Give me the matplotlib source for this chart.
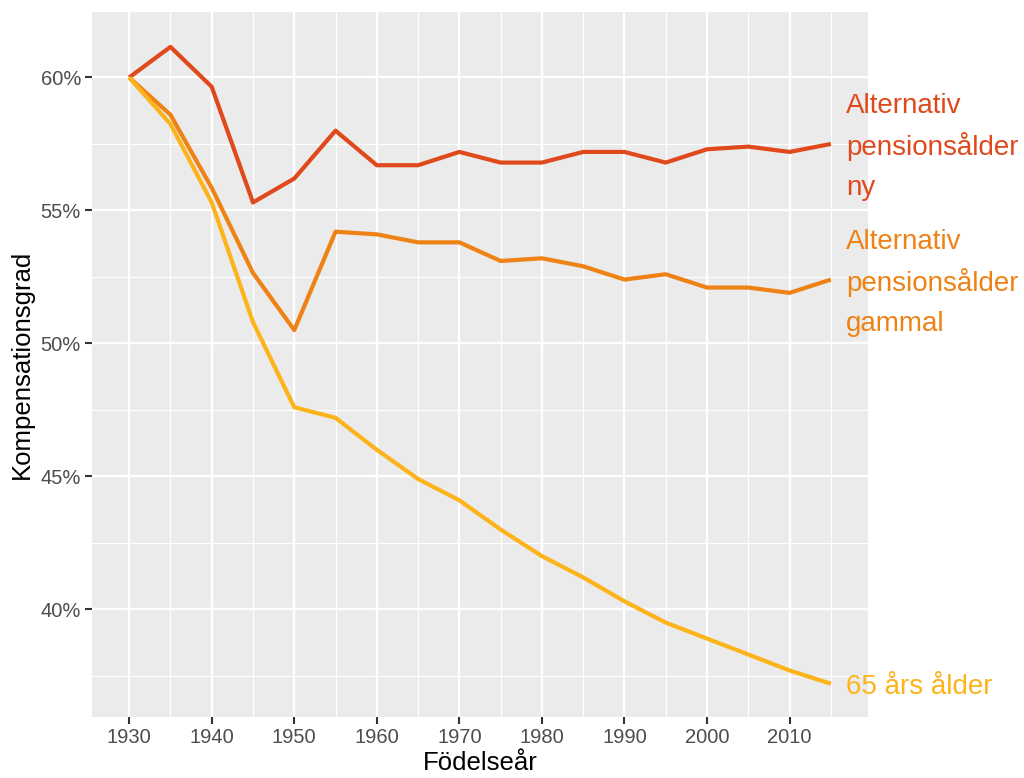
import matplotlib.pyplot as plt
import numpy as np

plt.rcParams['font.family'] = ['Liberation Sans', 'DejaVu Sans']

years = list(range(1930, 2016, 5))
ny = [60.0, 61.15, 59.65, 55.3, 56.2, 58.0, 56.7, 56.7, 57.2, 56.8, 56.8,
      57.2, 57.2, 56.8, 57.3, 57.4, 57.2, 57.5]
gammal = [60.0, 58.6, 55.85, 52.65, 50.5, 54.2, 54.1, 53.8, 53.8, 53.1, 53.2,
          52.9, 52.4, 52.6, 52.1, 52.1, 51.9, 52.4]
ar65 = [60.0, 58.25, 55.3, 50.8, 47.6, 47.2, 46.0, 44.9, 44.1, 43.0, 42.0,
        41.2, 40.3, 39.5, 38.9, 38.3, 37.7, 37.2]

series = [
    (ny, "#E0491B", ["Alternativ", "pensionsålder", "ny"]),
    (gammal, "#EE8215", ["Alternativ", "pensionsålder", "gammal"]),
    (ar65, "#FDB31A", ["65 års ålder"]),
]

fig = plt.figure(figsize=(10.24, 7.78), dpi=100)
ax = fig.add_axes([92 / 1024, 1 - 717 / 778, (868 - 92) / 1024, (717 - 11) / 778])
ax.set_facecolor("#EBEBEB")

step = 29.5  # line spacing of the end labels, in points
for vals, col, lines in series:
    ax.plot(years, vals, color=col, lw=3.0, solid_capstyle="butt", zorder=3)
    n = len(lines)
    for i, txt in enumerate(lines):
        dy = ((n - 1) / 2 - i) * step
        ax.annotate(txt, xy=(years[-1], vals[-1]), xytext=(11, dy),
                    textcoords="offset points", va="center_baseline", ha="left",
                    color=col, fontsize=20, annotation_clip=False)

ax.set_xlim(1925.5, 2019.5)
ax.set_ylim(35.95, 62.4)

ax.set_xticks(range(1930, 2011, 10))
ax.set_xticks(range(1935, 2016, 10), minor=True)
ax.set_yticks([40, 45, 50, 55, 60])
ax.set_yticks([37.5, 42.5, 47.5, 52.5, 57.5, 62.5], minor=True)
ax.set_yticklabels([f"{v}%" for v in [40, 45, 50, 55, 60]])

ax.grid(which="major", color="white", lw=1.7)
ax.grid(which="minor", color="white", lw=0.85)
ax.set_axisbelow(True)
for s in ax.spines.values():
    s.set_visible(False)

ax.tick_params(which="major", length=5, width=1.5, color="#333333",
               labelsize=14.5, labelcolor="#4D4D4D", pad=3)
ax.tick_params(which="minor", length=0)

ax.set_xlabel("Födelseår", fontsize=18.5, labelpad=3)
ax.set_ylabel("Kompensationsgrad", fontsize=18.5, labelpad=5)

fig.savefig("out.png", dpi=100)
